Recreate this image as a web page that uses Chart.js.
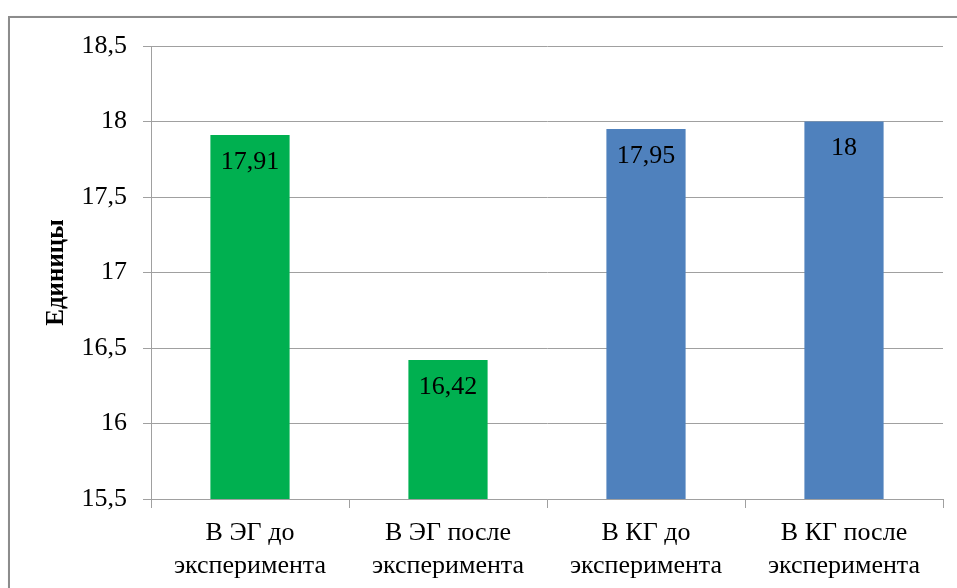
<!DOCTYPE html>
<html>
<head>
<meta charset="utf-8">
<script src="https://cdn.jsdelivr.net/npm/chart.js@4/dist/chart.umd.min.js"></script>
<style>
  html, body { margin: 0; padding: 0; background: #fff; overflow: hidden; }
  #wrap { position: relative; width: 957px; height: 588px; }
  #frame {
    position: absolute; left: 8px; top: 16px; width: 1100px; height: 700px;
    border: 2px solid #8c8c8c; box-shadow: 2px 2px 3px rgba(0,0,0,0.3);
  }
  #chart { position: absolute; left: 0; top: 0; }
</style>
</head>
<body>
<div id="wrap">
  <div id="frame"></div>
  <canvas id="chart" width="957" height="588"></canvas>
</div>
<script>
const categories = [
    ['В ЭГ до', 'эксперимента'],
    ['В ЭГ после', 'эксперимента'],
    ['В КГ до', 'эксперимента'],
    ['В КГ после', 'эксперимента']
];
const values = [17.91, 16.42, 17.95, 18];
const barColors = ['#00b050', '#00b050', '#4f81bd', '#4f81bd'];
const yMin = 15.5;
const yMax = 18.5;
const yStep = 0.5;
const yTitle = 'Единицы';

const fontFamily = "'Liberation Serif', 'Times New Roman', serif";
const gridColor = '#a0a0a0';

function comma(v) {
    return String(v).replace('.', ',');
}

// подписи значений внутри столбцов
const valueLabels = {
    id: 'valueLabels',
    afterDatasetsDraw(chart) {
        const ctx = chart.ctx;
        const meta = chart.getDatasetMeta(0);
        ctx.save();
        ctx.font = '26px ' + fontFamily;
        ctx.fillStyle = '#000';
        ctx.textAlign = 'center';
        ctx.textBaseline = 'middle';
        meta.data.forEach(function (bar, i) {
            ctx.fillText(comma(values[i]), bar.x, bar.y + 27);
        });
        ctx.restore();
    }
};

new Chart(document.getElementById('chart'), {
    type: 'bar',
    data: {
        labels: categories,
        datasets: [{
            data: values,
            backgroundColor: barColors,
            borderWidth: 0,
            barPercentage: 0.4,
            categoryPercentage: 1
        }]
    },
    options: {
        responsive: false,
        animation: false,
        layout: { padding: { left: 0, right: 14, top: 46, bottom: 0 } },
        plugins: {
            legend: { display: false },
            title: { display: false },
            tooltip: { enabled: false }
        },
        scales: {
            x: {
                grid: { drawOnChartArea: false, drawTicks: true, tickLength: 9, color: gridColor },
                border: { color: gridColor },
                ticks: {
                    color: '#000',
                    padding: 9,
                    maxRotation: 0,
                    font: { family: fontFamily, size: 26, lineHeight: 1.25 }
                },
                afterFit(scale) { scale.height = 89; }
            },
            y: {
                min: yMin,
                max: yMax,
                grid: { color: gridColor, tickLength: 8 },
                border: { color: gridColor },
                ticks: {
                    stepSize: yStep,
                    color: '#000',
                    padding: 16,
                    font: { family: fontFamily, size: 26 },
                    callback: function (v) { return comma(v); }
                },
                title: {
                    display: true,
                    text: yTitle,
                    color: '#000',
                    padding: { top: 42, bottom: 0 },
                    font: { family: fontFamily, size: 25, weight: 'bold', lineHeight: 1.2 }
                },
                afterFit(scale) { scale.width = 151; }
            }
        }
    },
    plugins: [valueLabels]
});
</script>
</body>
</html>
